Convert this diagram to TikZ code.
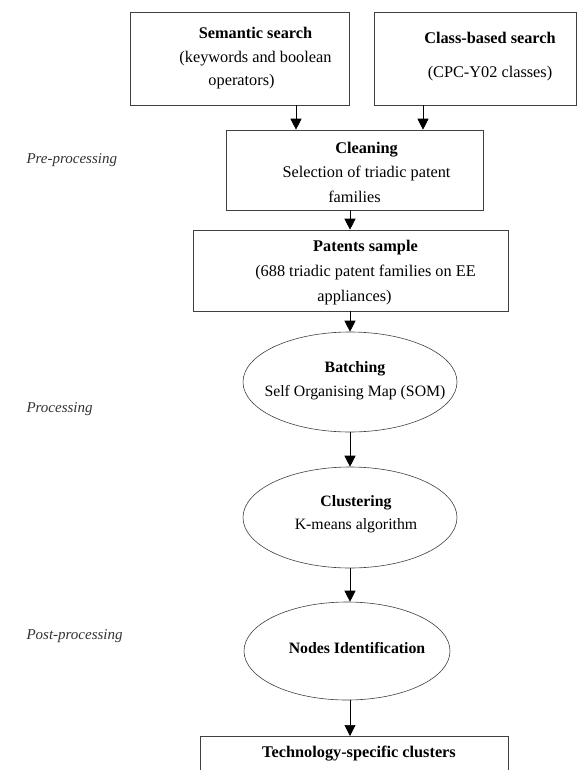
\documentclass[tikz,border=0pt]{standalone}
\usepackage{fontspec}
\setmainfont{Liberation Serif}
\usetikzlibrary{positioning,shapes.geometric,arrows.meta}

\tikzset{
    box/.style={draw=black!75, line width=0.6pt, inner sep=0pt},
    oval/.style={draw=black!75, line width=0.6pt, ellipse, inner sep=0pt},
    lbl/.style={align=center, inner sep=0pt},
    flow/.style={-{Triangle[width=11pt,length=11pt]}, line width=0.7pt},
    phase/.style={anchor=west, font=\fontsize{15}{17}\selectfont\itshape, text=black!80}
}

\begin{document}
\begin{tikzpicture}[x=1pt, y=-1pt, font=\fontsize{16.3}{23.5}\selectfont]
    \useasboundingbox (0,0) rectangle (586,770);
    \clip (0,0) rectangle (586,770);
    % search boxes
    \node[box, minimum width=219, minimum height=93] (sem) at (239.5,58.5) {};
    \node[lbl] (semlbl) at ([xshift=16]sem.center)
        {\textbf{Semantic search}\\(keywords and boolean\\operators)\hspace*{28pt}};
    \node[box, minimum width=202, minimum height=93] (cls) at (475,58.5) {};
    \node[lbl] (clslbl) at ([xshift=15,yshift=2]cls.center)
        {\textbf{Class-based search}\\[10pt](CPC-Y02 classes)};
    % pre-processing
    \node[box, minimum width=257, minimum height=80] (clean) at (354.5,170) {};
    \node[lbl, font=\fontsize{16.3}{24.5}\selectfont] (cleanlbl) at ([xshift=12,yshift=-2]clean.center)
        {\textbf{Cleaning}\\Selection of triadic patent\\families\hspace*{24pt}};
    \node[box, minimum width=315, minimum height=81] (sample) at (350.5,270.5) {};
    \node[lbl, font=\fontsize{16.3}{25}\selectfont] (samplelbl) at ([xshift=15,yshift=-2]sample.center)
        {\textbf{Patents sample}\\(688 triadic patent families on EE\\appliances)\hspace*{22pt}};
    % processing
    \node[oval, minimum width=214, minimum height=100] (batch) at (350,382) {};
    \node[lbl, font=\fontsize{15.8}{24}\selectfont] (batchlbl) at ([xshift=5,yshift=1]batch.center)
        {\textbf{Batching}\\Self Organising Map (SOM)};
    \node[oval, minimum width=214, minimum height=101] (clust) at (350,517.5) {};
    \node[lbl, font=\fontsize{15.8}{23}\selectfont] (clustlbl) at ([xshift=6,yshift=3]clust.center)
        {\textbf{Clustering}\\K-means algorithm};
    % post-processing
    \node[oval, minimum width=206, minimum height=98] (ident) at (347,651) {};
    \node[lbl, font=\fontsize{15.8}{23}\selectfont] (identlbl) at ([xshift=10,yshift=3]ident.center)
        {\textbf{Nodes Identification}};
    \node[box, minimum width=308, minimum height=80, anchor=north] (tech) at (354,736) {};
    \node[lbl] (techlbl) at (359,754) {\textbf{Technology-specific clusters}};
    % arrows
    \draw[flow] ([xshift=56.5]sem.south) -- ([xshift=56.5]sem.south |- clean.north);
    \draw[flow] ([xshift=-52]cls.south) -- ([xshift=-52]cls.south |- clean.north);
    \draw[flow] (clean.south -| batch.north) -- (batch.north |- sample.north);
    \draw[flow] (sample.south -| batch.north) -- (batch.north);
    \draw[flow] (batch.south) -- (clust.north);
    \draw[flow] (clust.south) -- (clust.south |- ident.north);
    \draw[flow] (ident.south -| clust.south) -- (clust.south |- tech.north);
    % text label
    \node[phase] (pre) at (23,160) {Pre-processing};
    \node[phase] (proc) at (23,409) {Processing};
    \node[phase] (post) at (23,636) {Post-processing};
\end{tikzpicture}
\end{document}
